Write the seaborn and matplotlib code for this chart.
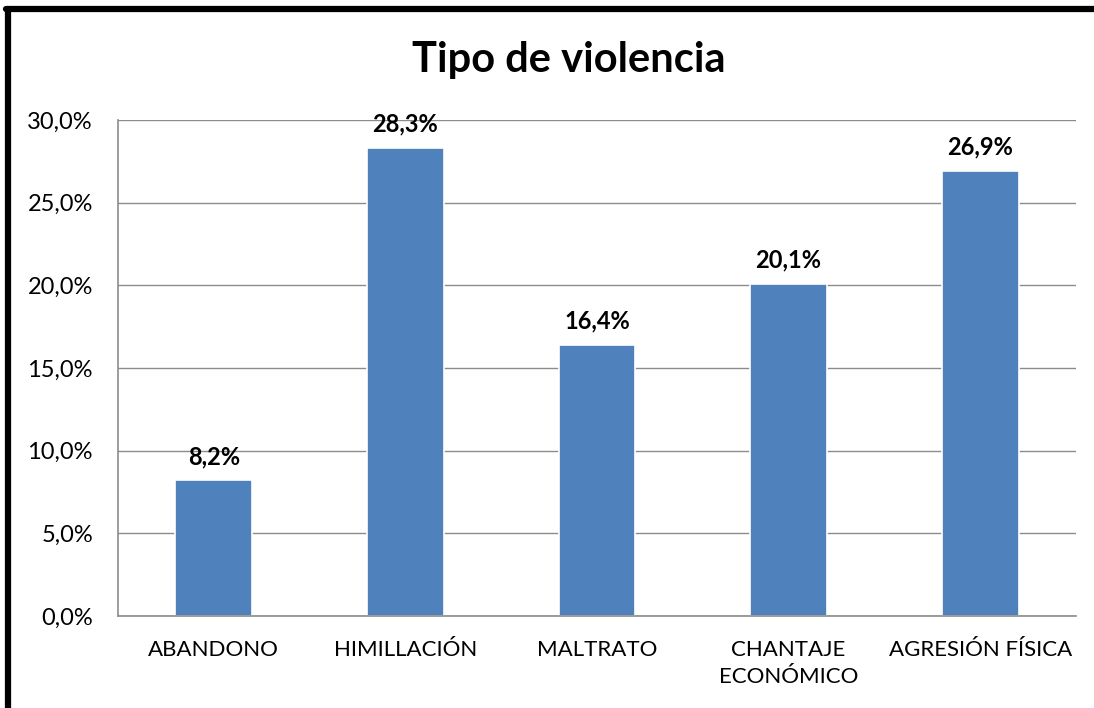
import matplotlib
matplotlib.use("Agg")
import matplotlib.pyplot as plt
import seaborn as sns
import pandas as pd
from matplotlib.lines import Line2D
from matplotlib.ticker import FuncFormatter

categories = ["ABANDONO", "HIMILLACIÓN", "MALTRATO", "CHANTAJE\nECONÓMICO", "AGRESIÓN FÍSICA"]
values = [8.2, 28.3, 16.4, 20.1, 26.9]
yticks = [0, 5, 10, 15, 20, 25, 30]

sns.set_theme(style="white")
plt.rcParams['font.family'] = ['Lato', 'DejaVu Sans']
plt.rcParams['text.color'] = 'black'

df = pd.DataFrame({"cat": categories, "val": values})

fig = plt.figure(figsize=(10.94, 7.08), dpi=100)
ax = fig.add_axes([118/1094, 1 - 616/708, (1076-118)/1094, (616-120)/708])

sns.barplot(data=df, x="cat", y="val", color="#4F81BD", saturation=1, width=0.40,
            edgecolor="white", linewidth=1.2, ax=ax)

ax.set_ylim(0, 30)
ax.set_xlim(-0.5, len(categories) - 0.5)
ax.set_yticks(yticks)
ax.yaxis.set_major_formatter(FuncFormatter(lambda v, p: f"{v:.1f}%".replace(".", ",")))
ax.grid(axis="y", color="#8c8c8c", linewidth=1)
ax.set_axisbelow(True)
for s in ["top", "right"]:
    ax.spines[s].set_visible(False)
for s in ["left", "bottom"]:
    ax.spines[s].set_color("#8c8c8c")
    ax.spines[s].set_linewidth(1.2)
ax.set_xlabel("")
ax.set_ylabel("")
ax.tick_params(axis="y", length=0, labelsize=17, colors="black", pad=18)
ax.tick_params(axis="x", length=0, labelsize=16, colors="black", pad=17)
for t in ax.get_xticklabels():
    t.set_linespacing(1.45)

labels = [f"{v:.1f}%".replace(".", ",") for v in values]
ax.bar_label(ax.containers[0], labels=labels, padding=9, fontsize=17, fontweight="bold",
             color="black")

fig.text(569/1094, 1 - 60/708, "Tipo de violencia", ha="center", va="center",
         fontsize=30, fontweight="bold", color="black")

# chart border (left and top)
fig.add_artist(Line2D([8/1094, 8/1094], [0, 1 - 9/708], color="black", linewidth=4.5,
                      transform=fig.transFigure))
fig.add_artist(Line2D([6/1094, 1], [1 - 9/708, 1 - 9/708], color="black", linewidth=4.5,
                      transform=fig.transFigure))

fig.savefig("out.png", dpi=100)
